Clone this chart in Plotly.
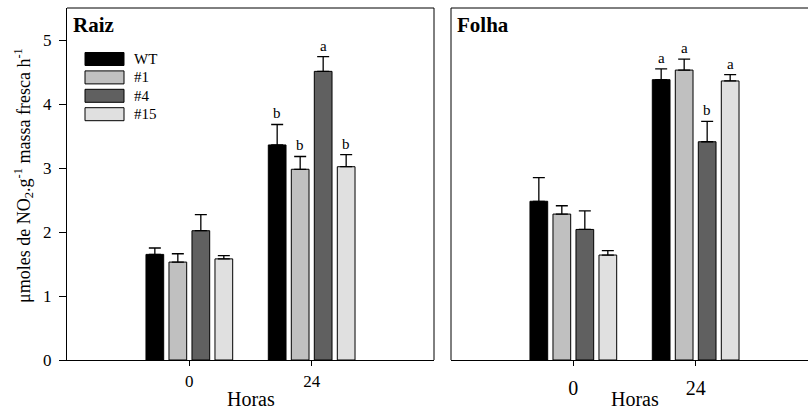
import plotly.graph_objects as go

# ---------------- data ----------------
hours = ["0", "24"]
series = ["WT", "#1", "#4", "#15"]
colors = ["#000000", "#c0c0c0", "#606060", "#e0e0e0"]

raiz_WT = [1.65, 3.36]
raiz_1 = [1.53, 2.98]
raiz_4 = [2.02, 4.51]
raiz_15 = [1.58, 3.02]
raiz_err_WT = [0.10, 0.32]
raiz_err_1 = [0.13, 0.20]
raiz_err_4 = [0.25, 0.23]
raiz_err_15 = [0.05, 0.19]
raiz_letters = [["", "b"], ["", "b"], ["", "a"], ["", "b"]]

folha_WT = [2.48, 4.38]
folha_1 = [2.28, 4.53]
folha_4 = [2.04, 3.41]
folha_15 = [1.64, 4.36]
folha_err_WT = [0.37, 0.17]
folha_err_1 = [0.13, 0.17]
folha_err_4 = [0.29, 0.32]
folha_err_15 = [0.07, 0.10]
folha_letters = [["", "a"], ["", "a"], ["", "b"], ["", "a"]]

yticks = [0, 1, 2, 3, 4, 5]

raiz_vals = [raiz_WT, raiz_1, raiz_4, raiz_15]
raiz_errs = [raiz_err_WT, raiz_err_1, raiz_err_4, raiz_err_15]
folha_vals = [folha_WT, folha_1, folha_4, folha_15]
folha_errs = [folha_err_WT, folha_err_1, folha_err_4, folha_err_15]

# ---------------- style ----------------
FONT = "Liberation Serif, Times New Roman, serif"
W, H = 808, 410
MT, MB = 8, 50
BARGAP = 0.248
BARGROUPGAP = 0.23

fig = go.Figure()

def add_panel(vals, errs, letters, xa, ya):
    n = len(series)
    slot = (1 - BARGAP) / n
    for i, name in enumerate(series):
        fig.add_trace(go.Bar(
            x=hours, y=vals[i], name=name, showlegend=False,
            marker=dict(color=colors[i], line=dict(color="black", width=1)),
            error_y=dict(type="data", array=errs[i], arrayminus=[0] * len(hours),
                         symmetric=False, color="black", thickness=1.3, width=6),
            xaxis=xa, yaxis=ya, hoverinfo="skip",
        ))
        for j, lab in enumerate(letters[i]):
            if lab:
                fig.add_annotation(
                    x=j + (i - (n - 1) / 2) * slot, y=vals[i][j] + errs[i][j],
                    xref=xa, yref=ya, text=lab, showarrow=False,
                    yanchor="bottom", yshift=1,
                    font=dict(family=FONT, size=15, color="black"),
                )

add_panel(raiz_vals, raiz_errs, raiz_letters, "x", "y")
add_panel(folha_vals, folha_errs, folha_letters, "x2", "y2")

axis_common = dict(showgrid=False, zeroline=False, showline=True,
                   linecolor="black", linewidth=1, mirror=False)

x1 = [67 / W, 434 / W]
x2 = [451 / W, 1.0]
unit_px = (434 - 67) / 3.0
x2_max = -1 + (W - 451) / unit_px

fig.update_layout(
    width=W, height=H,
    margin=dict(l=0, r=0, t=MT, b=MB),
    paper_bgcolor="white", plot_bgcolor="white",
    barmode="group", bargap=BARGAP, bargroupgap=BARGROUPGAP,
    font=dict(family=FONT, color="black"),
    hovermode=False,
    xaxis=dict(domain=x1, range=[-1, 2], type="category",
               ticks="outside", ticklen=5, tickcolor="black",
               tickfont=dict(size=17), ticklabelstandoff=1, anchor="y",
               **axis_common),
    yaxis=dict(domain=[0, 1], range=[0, 5.5], tickvals=yticks,
               ticks="outside", ticklen=7, tickcolor="black",
               tickfont=dict(size=17), ticklabelstandoff=4, anchor="x",
               **axis_common),
    xaxis2=dict(domain=x2, range=[-1, x2_max], type="category",
                ticks="outside", ticklen=5, tickcolor="black",
                tickfont=dict(size=20), ticklabelstandoff=5, anchor="y2",
                **axis_common),
    yaxis2=dict(domain=[0, 1], range=[0, 5.5], showticklabels=False, ticks="",
                showgrid=False, zeroline=False, showline=False, anchor="x2"),
)

# panel frames drawn explicitly
frame = dict(color="black", width=1)
# left panel: top and right edges
fig.add_shape(type="line", xref="x domain", yref="y domain", x0=0, x1=1, y0=1, y1=1, line=frame)
fig.add_shape(type="line", xref="x domain", yref="y domain", x0=1, x1=1, y0=0, y1=1, line=frame)
# right panel (cropped at the page edge): top and left edges
fig.add_shape(type="line", xref="x2 domain", yref="y2 domain", x0=0, x1=1, y0=1, y1=1, line=frame)
fig.add_shape(type="line", xref="x2 domain", yref="y2 domain", x0=0, x1=0, y0=0, y1=1, line=frame)

def py(p):
    return (H - MB - p) / (H - MT - MB)

# panel titles
fig.add_annotation(x=71 / W, y=py(25), xref="paper", yref="paper", text="<b>Raiz</b>",
                   showarrow=False, xanchor="left", yanchor="middle",
                   font=dict(family=FONT, size=21, color="black"))
fig.add_annotation(x=455 / W, y=py(25), xref="paper", yref="paper", text="<b>Folha</b>",
                   showarrow=False, xanchor="left", yanchor="middle",
                   font=dict(family=FONT, size=21, color="black"))

# x titles (centered between the two ticks)
fig.add_annotation(x=0.5, y=py(399), xref="x", yref="paper", text="Horas",
                   showarrow=False, xanchor="center", yanchor="middle",
                   font=dict(family=FONT, size=20, color="black"))
fig.add_annotation(x=0.5, y=py(398.5), xref="x2", yref="paper", text="Horas",
                   showarrow=False, xanchor="center", yanchor="middle",
                   font=dict(family=FONT, size=20, color="black"))

# y title
fig.add_annotation(x=23 / W, y=py(176), xref="paper", yref="paper",
                   text="μmoles de NO<sub>2</sub>.g<sup>-1</sup> massa fresca h<sup>-1</sup>",
                   textangle=-90, showarrow=False, xanchor="center", yanchor="middle",
                   font=dict(family=FONT, size=18, color="black"))

# legend (custom, inside Raiz panel)
row_top = 52.5
row_step = 18.4
box_h = 13
for i, name in enumerate(series):
    top = row_top + i * row_step
    fig.add_shape(type="rect", xref="paper", yref="paper",
                  x0=85 / W, x1=124 / W, y0=py(top + box_h), y1=py(top),
                  fillcolor=colors[i], line=dict(color="black", width=1))
    fig.add_annotation(x=132 / W, y=py(top + box_h / 2), xref="paper", yref="paper",
                       text=name, showarrow=False, xanchor="left", yanchor="middle",
                       font=dict(family=FONT, size=15, color="black"))

fig.write_html(
    "out.html",
    config={"displayModeBar": False, "staticPlot": True},
    post_script="document.body.style.margin='0';document.body.style.overflow='hidden';",
)
